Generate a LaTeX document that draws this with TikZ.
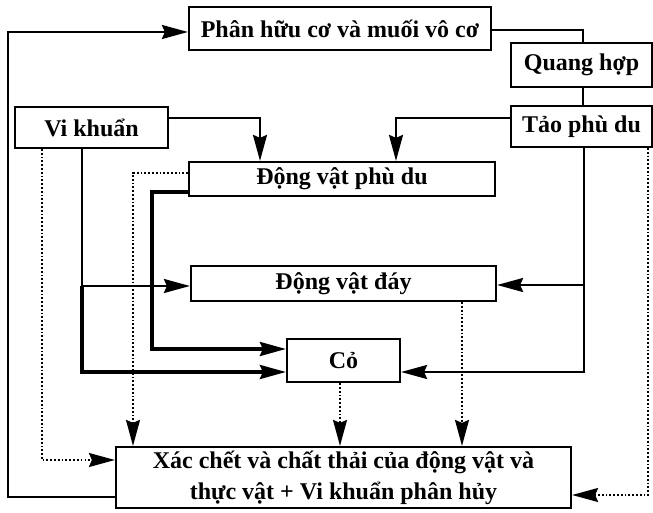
\documentclass[tikz,border=0pt]{standalone}
\usepackage{fontspec}
\setmainfont{Liberation Serif}
\usetikzlibrary{arrows.meta}
\begin{document}
\begin{tikzpicture}[x=1pt,y=-1pt,
  box/.style={draw,line width=2.2pt,inner sep=0pt,align=center,
    font=\bfseries\fontsize{24}{31}\selectfont},
  sol/.style={line width=2.2pt},
  thk/.style={line width=3.2pt},
  arr/.style={-{Stealth[length=26pt,width=14pt,inset=3pt]}},
  dot/.style={line width=1.8pt,dash pattern=on 1.8pt off 2pt}]
\useasboundingbox (0,0) rectangle (653,513);
% boxes
\node[box,minimum width=302pt,minimum height=43pt] (phan) at (340,28.5) {Phân hữu cơ và muối vô cơ};
\node[box,minimum width=141pt,minimum height=44pt] (quang) at (581.5,65) {Quang hợp};
\node[box,minimum width=141pt,minimum height=41pt] (tao) at (581.5,126.5) {Tảo phù du};
\node[box,minimum width=153pt,minimum height=41pt] (vik) at (91.5,127.5) {Vi khuẩn};
\node[box,minimum width=306pt,minimum height=34pt] (dvpd) at (342,179) {Động vật phù du};
\node[box,minimum width=305pt,minimum height=35pt] (dvday) at (343.5,283.5) {Động vật đáy};
\node[box,minimum width=113pt,minimum height=43pt] (co) at (343.5,360.5) {Cỏ};
\node[box,minimum width=455pt,minimum height=61pt] (xac) at (343.5,477.5) {Xác chết và chất thải của động vật và\\thực vật + Vi khuẩn phân hủy};
% solid connectors
\draw[sol,arr] (xac.west |- 0,497) -- (8,497) -- (8,32) -- (phan.west |- 0,32);
\draw[sol] (phan.east |- 0,30) -- (583,30) -- (quang.north -| 583,0);
\draw[sol] (quang.south -| 583,0) -- (tao.north -| 583,0);
\draw[sol,arr] (tao.west |- 0,118) -- (396,118) -- (dvpd.north -| 396,0);
\draw[sol,arr] (vik.east |- 0,118) -- (260,118) -- (dvpd.north -| 260,0);
\draw[sol,arr] (tao.south -| 584,0) -- (584,372) -- (co.east |- 0,372);
\draw[sol,arr] (584,285) -- (dvday.east |- 0,285);
\draw[sol] (vik.south -| 82,0) -- (82,286);
\draw[thk,arr] (82,286) -- (82,372) -- (co.west |- 0,372);
\draw[sol,arr] (82,286) -- (dvday.west |- 0,286);
\draw[thk,arr] (dvpd.west |- 0,192) -- (152,192) -- (152,349) -- (co.west |- 0,349);
% dotted connectors
\draw[dot,arr] (vik.south -| 42,0) -- (42,460) -- (xac.west |- 0,460);
\draw[dot,arr] (dvpd.west |- 0,173) -- (133,173) -- (xac.north -| 133,0);
\draw[dot,arr] (co.south -| 340,0) -- (xac.north -| 340,0);
\draw[dot,arr] (dvday.south -| 462,0) -- (xac.north -| 462,0);
\draw[dot,arr] (tao.south -| 648,0) -- (648,495) -- (xac.east |- 0,495);
\end{tikzpicture}
\end{document}
